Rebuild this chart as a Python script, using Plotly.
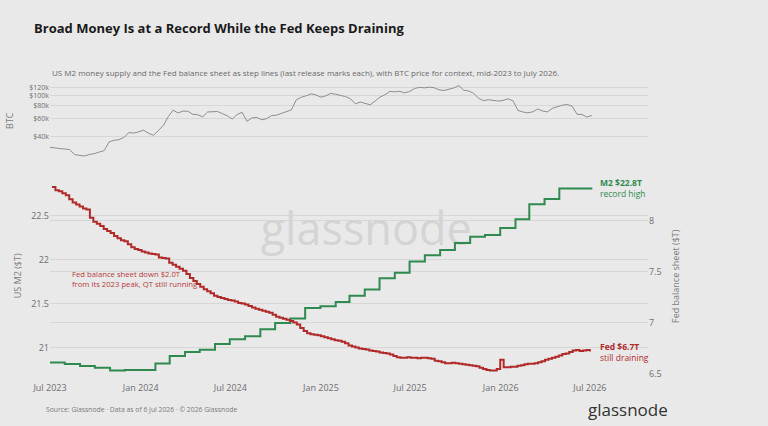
import pandas as pd
import plotly.graph_objects as go

# M2 money supply ($T), monthly releases (step holds until next release)
m2_dates = pd.date_range("2023-06-30", "2026-04-30", freq="ME").strftime("%Y-%m-%d").tolist() + ["2026-07-06"]
m2_values = [
    20.83, 20.815, 20.79, 20.77, 20.74, 20.745, 20.745,
    20.82, 20.905, 20.95, 20.975, 21.04, 21.095, 21.13, 21.21, 21.28, 21.33, 21.45, 21.47,
    21.52, 21.59, 21.66, 21.79, 21.85, 21.98, 22.05, 22.11, 22.19, 22.26, 22.28, 22.36,
    22.46, 22.63, 22.69, 22.81,
    22.81,
]

# Fed balance sheet ($T), weekly H.4.1 readings
fed_dates = pd.date_range("2023-07-05", periods=157, freq="7D")
fed_values = [
    8.33, 8.30, 8.29, 8.27, 8.25, 8.21, 8.18, 8.16, 8.14, 8.12,
    8.11, 8.03, 7.99, 7.97, 7.95, 7.92, 7.90, 7.88, 7.85, 7.83,
    7.81, 7.80, 7.77, 7.74, 7.725, 7.715, 7.70, 7.69, 7.68, 7.675,
    7.67, 7.64, 7.635, 7.63, 7.59, 7.57, 7.55, 7.53, 7.51, 7.48,
    7.44, 7.41, 7.38, 7.355, 7.33, 7.31, 7.29, 7.265, 7.255, 7.245,
    7.235, 7.225, 7.22, 7.21, 7.195, 7.19, 7.18, 7.165, 7.15, 7.14,
    7.13, 7.12, 7.11, 7.10, 7.08, 7.06, 7.05, 7.04, 7.03, 7.02,
    7.005, 6.985, 6.95, 6.92, 6.90, 6.89, 6.885, 6.88, 6.87, 6.86,
    6.85, 6.84, 6.83, 6.825, 6.815, 6.80, 6.78, 6.77, 6.76, 6.75,
    6.745, 6.74, 6.73, 6.725, 6.72, 6.71, 6.705, 6.70, 6.69, 6.675,
    6.665, 6.66, 6.66, 6.665, 6.66, 6.66, 6.655, 6.66, 6.66, 6.655,
    6.65, 6.63, 6.625, 6.615, 6.605, 6.605, 6.61, 6.605, 6.60, 6.595,
    6.59, 6.585, 6.58, 6.575, 6.56, 6.55, 6.54, 6.535, 6.535, 6.55,
    6.64, 6.565, 6.565, 6.57, 6.57, 6.58, 6.585, 6.595, 6.60, 6.60,
    6.605, 6.615, 6.625, 6.64, 6.65, 6.66, 6.67, 6.68, 6.695, 6.70,
    6.715, 6.73, 6.735, 6.725, 6.73, 6.735, 6.72,
]

# BTC price ($k), sampled every 10 days
btc_dates = pd.date_range("2023-07-01", periods=111, freq="10D")
btc_k = [
    31.8, 31.1, 30.9, 30.6, 30.2, 27.0, 26.7, 26.2, 27.1, 27.6,
    28.6, 29.5, 35.8, 37.1, 37.6, 39.5, 44.0, 43.6, 44.8, 46.5,
    43.4, 41.5, 46.0, 51.5, 62.5, 72.5, 68.0, 71.0, 70.6, 66.0,
    65.4, 62.3, 69.5, 69.8, 70.3, 67.0, 63.8, 59.5, 65.8, 69.0,
    56.5, 61.0, 61.5, 58.5, 60.0, 64.2, 64.8, 67.5, 70.0, 72.8,
    91.0, 96.5, 99.5, 104.0, 101.5, 96.5, 99.5, 105.0, 103.0, 100.5,
    97.8, 93.0, 83.2, 86.7, 84.5, 81.5, 88.5, 96.8, 102.0, 109.8,
    108.6, 109.8, 106.3, 109.5, 117.0, 120.0, 118.7, 120.5, 119.0, 113.5,
    112.0, 114.5, 118.5, 125.0, 112.5, 110.6, 105.0, 94.5, 89.3, 91.2,
    89.5, 88.5, 89.8, 93.0, 89.0, 72.0, 69.5, 68.2, 69.8, 74.2,
    71.0, 69.7, 75.5, 78.0, 80.8, 82.0, 79.0, 66.0, 65.8, 62.0, 64.5,
]
btc_values = [v * 1000 for v in btc_k]

btc_ticks = [40000, 60000, 80000, 100000, 120000]
btc_ticktext = ["$40k", "$60k", "$80k", "$100k", "$120k"]

BG = "#e9e9e9"
GRID = "#d7d7d7"
GREEN = "#2f8a4f"
RED = "#b02a2a"
FONT = "Open Sans"

fig = go.Figure()

# watermark as the first trace so the series lines draw over it
fig.add_trace(go.Scatter(
    x=["2025-04-03"], y=[22.29], xaxis="x", yaxis="y",
    mode="text", text=["glassnode"], textposition="middle center",
    textfont=dict(family=FONT, size=45, color="#d4d4d4"), hoverinfo="skip",
))
fig.add_trace(go.Scatter(
    x=btc_dates, y=btc_values, xaxis="x2", yaxis="y3",
    mode="lines", line=dict(color="#8e8e8e", width=1), hoverinfo="skip",
))
fig.add_trace(go.Scatter(
    x=m2_dates, y=m2_values, xaxis="x", yaxis="y",
    mode="lines", line=dict(color=GREEN, width=2, shape="hv"),
))
fig.add_trace(go.Scatter(
    x=fed_dates, y=fed_values, xaxis="x", yaxis="y2",
    mode="lines", line=dict(color=RED, width=2, shape="hv"),
))

x_range = ["2023-07-01", "2026-10-27"]
tick_font = dict(family=FONT, size=9, color="#6e6e6e")

fig.update_layout(
    width=768, height=426,
    margin=dict(l=50, r=120, t=80, b=52),
    paper_bgcolor=BG, plot_bgcolor=BG,
    showlegend=False,
    font=dict(family=FONT),
    xaxis=dict(
        domain=[0, 1], anchor="y", range=x_range, type="date",
        tick0="2023-07-01", dtick="M6", tickformat="%b %Y",
        showgrid=False, zeroline=False, showline=False,
        ticks="outside", ticklen=5, tickcolor=BG, tickfont=tick_font,
    ),
    yaxis=dict(
        domain=[0, 0.667], range=[20.70, 22.93],
        tickvals=[21, 21.5, 22, 22.5], ticktext=["21", "21.5", "22", "22.5"],
        gridcolor=GRID, zeroline=False, tickfont=tick_font,
    ),
    yaxis2=dict(
        overlaying="y", side="right", anchor="x", range=[6.5, 8.42],
        tickvals=[6.5, 7, 7.5, 8], ticktext=["6.5", "7", "7.5", "8"],
        gridcolor=GRID, zeroline=False, tickfont=tick_font,
    ),
    xaxis2=dict(
        domain=[0, 1], anchor="y3", matches="x", type="date",
        showticklabels=False, showgrid=False, zeroline=False,
    ),
    yaxis3=dict(
        domain=[0.728, 1], type="log", range=[4.38, 5.15],
        tickvals=btc_ticks, ticktext=btc_ticktext,
        gridcolor=GRID, zeroline=False, tickfont=dict(family=FONT, size=7, color="#6e6e6e"),
    ),
)

notes = [
    # title and subtitle
    dict(x=-0.030, y=1.177, text="<b>Broad Money Is at a Record While the Fed Keeps Draining</b>",
         xanchor="left", font=dict(size=13, color="#1a1a1a")),
    dict(x=0.0, y=1.027, text="US M2 money supply and the Fed balance sheet as step lines (last release marks each), "
                               "with BTC price for context, mid-2023 to July 2026.",
         xanchor="left", font=dict(size=8, color="#6a6a6a")),
    # axis titles
    dict(x=-0.067, y=0.864, text="BTC", textangle=-90, xanchor="center", font=dict(size=9, color="#7a7a7a")),
    dict(x=-0.055, y=0.333, text="US M2 ($T)", textangle=-90, xanchor="center", font=dict(size=9, color="#7a7a7a")),
    dict(x=1.045, y=0.333, text="Fed balance sheet ($T)", textangle=-90, xanchor="center",
         font=dict(size=9, color="#7a7a7a")),
    # footer
    dict(x=-0.010, y=-0.122, text="Source: Glassnode · Data as of 6 Jul 2026 · © 2026 Glassnode",
         xanchor="left", font=dict(size=6.8, color="#7a7a7a")),
    dict(x=0.967, y=-0.122, text="glassnode", xanchor="center", font=dict(size=17, color="#333333")),
]
for n in notes:
    fig.add_annotation(xref="paper", yref="paper", showarrow=False, yanchor="middle", **n)

# series callouts
fig.add_annotation(
    x="2023-08-10", y=21.775, xref="x", yref="y", showarrow=False,
    text="Fed balance sheet down $2.0T<br>from its 2023 peak, QT still running",
    xanchor="left", yanchor="middle", align="left",
    font=dict(size=7.7, color="#b53a3a"),
)
fig.add_annotation(
    x=m2_dates[-1], y=m2_values[-1], xref="x", yref="y", showarrow=False,
    text="<b>M2 $22.8T</b><br>record high", xanchor="left", yanchor="middle", align="left",
    xshift=6, font=dict(size=8.5, color=GREEN),
)
fig.add_annotation(
    x=m2_dates[-1], y=fed_values[-1], xref="x", yref="y2", showarrow=False,
    text="<b>Fed $6.7T</b><br>still draining", xanchor="left", yanchor="middle", align="left",
    xshift=6, font=dict(size=8.5, color=RED),
)

# the page's default 8px body margin would shift the figure off the window
fig.write_html(
    "out.html",
    config={"displayModeBar": False},
    post_script="document.body.style.margin='0';",
)
